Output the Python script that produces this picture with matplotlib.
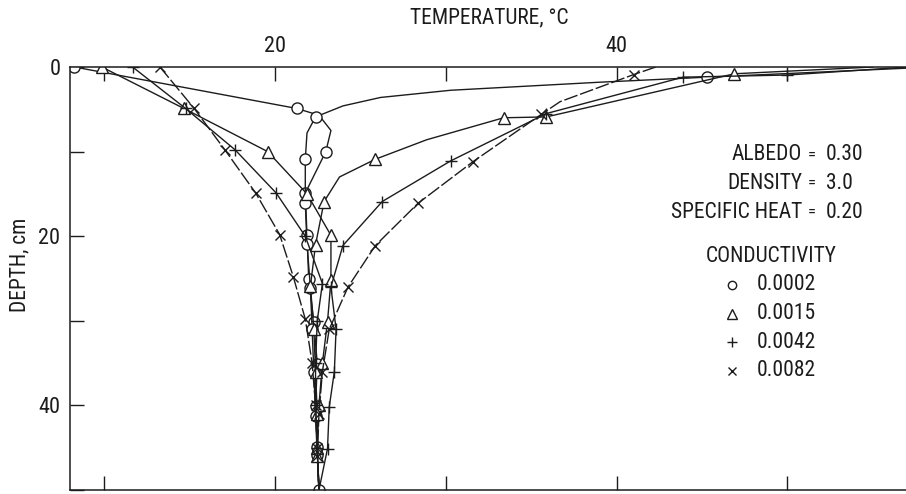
import matplotlib
matplotlib.use("Agg")
import matplotlib.pyplot as plt
from matplotlib import font_manager

# temperature (C) / depth (cm) profiles
# each conductivity has a cold (night) and hot (day) branch
o_cold_T = [8.3, 21.3, 22.6, 23.3, 23.0, 21.8, 21.9, 22.0, 22.3, 22.5, 22.4, 22.5, 22.6]
o_cold_D = [0, 4.9, 5.7, 7.5, 10.0, 14.9, 19.9, 25.1, 30.1, 35.1, 40.1, 44.9, 50.0]
o_cold_mk = [0, 1, 4, 5, 6, 7, 8, 9, 10, 11, 12]
o_hot_T = [58.5, 45.3, 39.0, 30.3, 26.2, 24.0, 22.4, 21.9, 21.8, 21.8, 21.9, 22.1, 22.2, 22.3, 22.4, 22.5, 22.6]
o_hot_D = [0, 1.2, 1.8, 2.75, 3.6, 4.6, 5.9, 7.8, 10.9, 16.1, 20.9, 26.1, 31.0, 36.0, 41.2, 45.9, 50.0]
o_hot_mk = [1, 6, 8, 9, 10, 11, 12, 13, 14, 15]

t_cold_T = [9.9, 14.7, 19.6, 21.9, 23.3, 23.3, 23.1, 22.8, 22.6, 22.5, 22.6]
t_cold_D = [0, 4.9, 10.0, 15.0, 19.9, 25.2, 30.1, 35.0, 40.0, 45.0, 50.0]
t_cold_mk = [0, 1, 2, 3, 4, 5, 6, 7, 8, 9]
t_hot_T = [55.0, 46.9, 35.9, 33.4, 28.9, 25.9, 23.8, 22.9, 22.4, 22.1, 22.3, 22.4, 22.5, 22.5, 22.6]
t_hot_D = [0, 0.8, 5.9, 6.0, 8.6, 10.9, 13.0, 15.9, 21.0, 25.9, 31.0, 36.0, 41.0, 46.0, 50.0]
t_hot_mk = [1, 2, 3, 5, 7, 8, 9, 10, 11, 12, 13]

p_cold_T = [11.7, 14.8, 17.7, 20.1, 21.8, 22.8, 22.5, 22.4, 22.4, 22.5, 22.6]
p_cold_D = [0, 4.9, 9.8, 14.9, 20.0, 25.6, 30.0, 35.0, 40.0, 45.0, 50.0]
p_cold_mk = [0, 1, 2, 3, 4, 5, 6, 7, 8, 9]
p_hot_T = [57.0, 50.0, 43.9, 35.9, 30.3, 26.3, 24.0, 23.3, 23.6, 23.5, 23.2, 23.1, 22.6]
p_hot_D = [0, 0.95, 1.2, 5.5, 11.1, 15.9, 21.1, 26.0, 31.0, 36.0, 40.2, 45.1, 50.0]
p_hot_mk = [1, 2, 3, 4, 5, 6, 7, 8, 9, 10, 11]

x_cold_T = [13.3, 15.3, 17.1, 18.9, 20.3, 21.1, 21.8, 22.2, 22.4, 22.5, 22.6]
x_cold_D = [0, 4.9, 9.8, 14.9, 19.8, 24.8, 29.8, 35.0, 40.0, 45.0, 50.0]
x_cold_mk = [0, 1, 2, 3, 4, 5, 6, 7, 8, 9]
x_hot_T = [42.3, 41.0, 36.7, 35.6, 31.6, 28.4, 25.9, 24.3, 23.2, 22.8, 22.6, 22.5, 22.6]
x_hot_D = [0, 0.9, 4.1, 5.6, 11.2, 16.1, 21.1, 26.0, 31.0, 36.0, 41.0, 46.0, 50.0]
x_hot_mk = [1, 3, 4, 5, 6, 7, 8, 9, 10, 11]

conductivity = ["0.0002", "0.0015", "0.0042", "0.0082"]
params = [("ALBEDO", "0.30"), ("DENSITY", "3.0"), ("SPECIFIC HEAT", "0.20")]

# the original lettering is a narrow grotesque; use a condensed face if there is one
names = {f.name for f in font_manager.fontManager.ttflist}
fam = "DejaVu Sans"
for cand in ["Liberation Sans Narrow", "Roboto Condensed", "DejaVu Sans Condensed",
             "Open Sans Condensed", "Noto Sans Condensed"]:
    if cand in names:
        fam = cand
        break
plt.rcParams["font.family"] = [fam, "DejaVu Sans"]
plt.rcParams["font.stretch"] = "condensed"

ink = "#1c1c1c"
W, H = 906, 494
fig = plt.figure(figsize=(W / 100, H / 100), dpi=100)
ax = fig.add_axes([70 / W, 1 - 490 / H, 1 - 70 / W, (490 - 67) / H])


def branch(T, D, mk, marker, ms, ls="-"):
    ax.plot(T, D, color=ink, lw=1.0, ls=ls, marker=marker, markevery=mk,
            ms=ms, mfc="white", mec=ink, mew=1.0)


branch(o_cold_T, o_cold_D, o_cold_mk, "o", 8)
branch(o_hot_T, o_hot_D, o_hot_mk, "o", 8)
branch(t_cold_T, t_cold_D, t_cold_mk, "^", 9)
branch(t_hot_T, t_hot_D, t_hot_mk, "^", 9)
branch(p_cold_T, p_cold_D, p_cold_mk, "+", 9)
branch(p_hot_T, p_hot_D, p_hot_mk, "+", 9)
branch(x_cold_T, x_cold_D, x_cold_mk, "x", 7, ls=(0, (10, 2)))
branch(x_hot_T, x_hot_D, x_hot_mk, "x", 7, ls=(0, (10, 2)))

ax.set_xlim(8.04, 56.93)
ax.set_ylim(50, 0)
ax.spines["right"].set_visible(False)
for s in ax.spines.values():
    s.set_color(ink)
    s.set_linewidth(1.1)

ax.set_xticks([10, 20, 30, 40, 50])
ax.set_xticklabels(["", "20", "", "40", ""])
ax.set_yticks([0, 10, 20, 30, 40, 50])
ax.set_yticklabels(["0", "", "20", "", "40", ""])
ax.tick_params(axis="x", top=True, bottom=True, labeltop=True, labelbottom=False,
               direction="in", length=10, width=1.0, color=ink, pad=7,
               labelsize=16, labelcolor=ink)
ax.tick_params(axis="y", direction="in", length=10, width=1.0, color=ink,
               pad=7, labelsize=16, labelcolor=ink)

fig.text(489 / W, 1 - 18 / H, "TEMPERATURE, °C", ha="center", va="center",
         fontsize=15.5, color=ink)
fig.text(20 / W, 1 - 265 / H, "DEPTH, cm", rotation=90, ha="center", va="center",
         fontsize=15.5, color=ink)

# albedo / density / specific heat block
for i, (name, val) in enumerate(params):
    y = 1 - (155 + 28.5 * i) / H
    fig.text(802 / W, y, name, ha="right", va="center", fontsize=15.5, color=ink)
    fig.text(812 / W, y, "=", ha="center", va="center", fontsize=12, color=ink)
    fig.text(826 / W, y, val, ha="left", va="center", fontsize=15.5, color=ink)

fig.text(771 / W, 1 - 257 / H, "CONDUCTIVITY", ha="center", va="center",
         fontsize=15.5, color=ink)
leg_marks = [("o", 6), ("^", 7), ("+", 7), ("x", 6)]
for i, (k, (m, ms)) in enumerate(zip(conductivity, leg_marks)):
    y = 1 - (285 + 28.5 * i) / H
    ax.plot([732 / W], [y], transform=fig.transFigure, clip_on=False, marker=m,
            ms=ms, mfc="white", mec=ink, mew=1.0, ls="none")
    fig.text(757 / W, y, k, ha="left", va="center", fontsize=15.5, color=ink)

fig.savefig("out.png", dpi=100)
